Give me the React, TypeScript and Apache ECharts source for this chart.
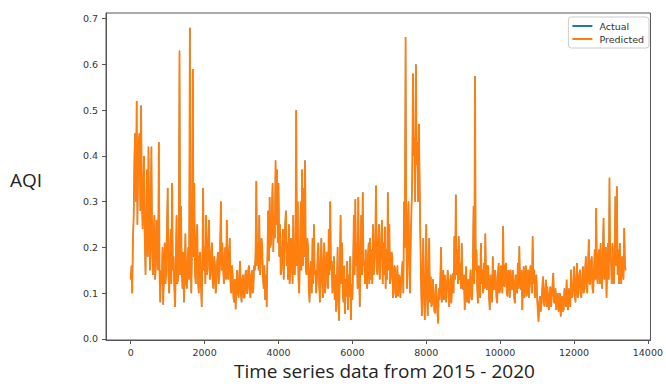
import React, { useEffect, useRef } from "react";
import * as echarts from "echarts";

// Time step between consecutive samples (time-series index units)
const timeStep = 20;

// AQI values (Actual and Predicted overlap almost perfectly)
const aqiValues: number[] = [
  // 0 - 980
  0.13, 0.16, 0.10, 0.22, 0.27, 0.40, 0.45, 0.30, 0.52, 0.25, 0.36, 0.44, 0.45, 0.28, 0.51, 0.32, 0.24, 0.33, 0.40, 0.22, 0.14, 0.26, 0.37, 0.18, 0.42, 0.25, 0.15, 0.30, 0.42, 0.19, 0.14, 0.22, 0.27, 0.13, 0.16, 0.26, 0.22, 0.15, 0.43, 0.14, 0.08, 0.15, 0.12, 0.20, 0.075, 0.14, 0.21, 0.12, 0.15, 0.24,
  // 1000 - 1980
  0.33, 0.14, 0.10, 0.18, 0.24, 0.12, 0.34, 0.15, 0.18, 0.11, 0.07, 0.16, 0.27, 0.12, 0.13, 0.20, 0.63, 0.14, 0.29, 0.16, 0.11, 0.19, 0.08, 0.15, 0.23, 0.12, 0.11, 0.17, 0.20, 0.13, 0.68, 0.16, 0.10, 0.21, 0.59, 0.18, 0.34, 0.14, 0.12, 0.22, 0.25, 0.13, 0.10, 0.18, 0.19, 0.12, 0.07, 0.17, 0.33, 0.15,
  // 2000 - 2980
  0.20, 0.12, 0.27, 0.14, 0.15, 0.22, 0.26, 0.13, 0.14, 0.19, 0.21, 0.12, 0.11, 0.18, 0.16, 0.10, 0.13, 0.17, 0.19, 0.12, 0.14, 0.20, 0.30, 0.15, 0.21, 0.16, 0.12, 0.18, 0.20, 0.13, 0.26, 0.15, 0.13, 0.19, 0.22, 0.12, 0.10, 0.16, 0.14, 0.09, 0.08, 0.13, 0.065, 0.12, 0.15, 0.10, 0.09, 0.14, 0.17, 0.10,
  // 3000 - 3980
  0.08, 0.13, 0.14, 0.09, 0.09, 0.14, 0.15, 0.10, 0.10, 0.15, 0.16, 0.11, 0.09, 0.14, 0.15, 0.10, 0.11, 0.16, 0.15, 0.19, 0.345, 0.16, 0.21, 0.15, 0.27, 0.14, 0.17, 0.22, 0.20, 0.13, 0.11, 0.16, 0.085, 0.14, 0.07, 0.18, 0.28, 0.17, 0.31, 0.20, 0.21, 0.28, 0.34, 0.19, 0.27, 0.22, 0.39, 0.25, 0.37, 0.21,
  // 4000 - 4980
  0.34, 0.18, 0.25, 0.14, 0.15, 0.20, 0.24, 0.13, 0.19, 0.25, 0.28, 0.16, 0.21, 0.13, 0.25, 0.12, 0.15, 0.22, 0.18, 0.12, 0.27, 0.15, 0.14, 0.20, 0.50, 0.16, 0.30, 0.13, 0.10, 0.18, 0.30, 0.15, 0.37, 0.16, 0.33, 0.18, 0.39, 0.15, 0.14, 0.22, 0.20, 0.11, 0.08, 0.15, 0.17, 0.10, 0.22, 0.12, 0.25, 0.14,
  // 5000 - 5980
  0.15, 0.10, 0.13, 0.19, 0.21, 0.12, 0.08, 0.16, 0.22, 0.13, 0.09, 0.17, 0.21, 0.10, 0.12, 0.19, 0.18, 0.11, 0.24, 0.14, 0.30, 0.15, 0.17, 0.10, 0.13, 0.18, 0.085, 0.14, 0.06, 0.12, 0.20, 0.08, 0.04, 0.15, 0.27, 0.12, 0.21, 0.10, 0.08, 0.16, 0.055, 0.13, 0.093, 0.17, 0.063, 0.14, 0.093, 0.18, 0.042, 0.12,
  // 6000 - 6980
  0.085, 0.16, 0.27, 0.14, 0.305, 0.16, 0.21, 0.11, 0.31, 0.15, 0.07, 0.18, 0.27, 0.14, 0.32, 0.16, 0.17, 0.12, 0.195, 0.14, 0.11, 0.18, 0.21, 0.12, 0.22, 0.13, 0.195, 0.12, 0.25, 0.14, 0.17, 0.22, 0.335, 0.15, 0.14, 0.21, 0.25, 0.13, 0.17, 0.22, 0.26, 0.12, 0.21, 0.14, 0.245, 0.11, 0.195, 0.13, 0.32, 0.15,
  // 7000 - 7980
  0.25, 0.12, 0.136, 0.19, 0.18, 0.09, 0.10, 0.16, 0.15, 0.09, 0.12, 0.16, 0.093, 0.14, 0.136, 0.09, 0.12, 0.15, 0.17, 0.10, 0.30, 0.20, 0.66, 0.22, 0.11, 0.25, 0.30, 0.16, 0.10, 0.22, 0.28, 0.35, 0.58, 0.40, 0.44, 0.30, 0.60, 0.38, 0.43, 0.30, 0.47, 0.35, 0.22, 0.12, 0.05, 0.14, 0.22, 0.09, 0.042, 0.13,
  // 8000 - 8980
  0.25, 0.09, 0.05, 0.14, 0.22, 0.08, 0.136, 0.07, 0.078, 0.13, 0.10, 0.06, 0.056, 0.12, 0.093, 0.06, 0.034, 0.11, 0.085, 0.13, 0.20, 0.08, 0.107, 0.15, 0.085, 0.14, 0.122, 0.08, 0.114, 0.15, 0.122, 0.07, 0.10, 0.14, 0.078, 0.12, 0.144, 0.10, 0.224, 0.13, 0.315, 0.14, 0.195, 0.12, 0.224, 0.13, 0.166, 0.11, 0.209, 0.13,
  // 9000 - 9980
  0.107, 0.14, 0.063, 0.12, 0.158, 0.08, 0.10, 0.13, 0.078, 0.12, 0.151, 0.09, 0.085, 0.14, 0.29, 0.12, 0.574, 0.15, 0.195, 0.11, 0.078, 0.16, 0.129, 0.09, 0.209, 0.12, 0.151, 0.10, 0.166, 0.11, 0.23, 0.12, 0.107, 0.16, 0.158, 0.09, 0.063, 0.14, 0.122, 0.08, 0.18, 0.11, 0.107, 0.15, 0.136, 0.09, 0.078, 0.14, 0.166, 0.10,
  // 10000 - 10980
  0.107, 0.16, 0.151, 0.10, 0.246, 0.12, 0.114, 0.16, 0.166, 0.10, 0.093, 0.15, 0.144, 0.09, 0.151, 0.11, 0.107, 0.15, 0.136, 0.09, 0.078, 0.14, 0.136, 0.10, 0.166, 0.11, 0.202, 0.12, 0.107, 0.15, 0.063, 0.13, 0.158, 0.09, 0.122, 0.16, 0.093, 0.13, 0.151, 0.09, 0.122, 0.16, 0.136, 0.10, 0.224, 0.12, 0.151, 0.09, 0.122, 0.14,
  // 11000 - 11980
  0.093, 0.06, 0.038, 0.08, 0.093, 0.06, 0.078, 0.11, 0.136, 0.08, 0.071, 0.11, 0.129, 0.07, 0.114, 0.08, 0.063, 0.10, 0.114, 0.07, 0.093, 0.12, 0.144, 0.08, 0.078, 0.11, 0.063, 0.09, 0.10, 0.06, 0.071, 0.10, 0.049, 0.08, 0.093, 0.06, 0.063, 0.11, 0.093, 0.07, 0.129, 0.08, 0.063, 0.11, 0.10, 0.07, 0.151, 0.09, 0.093, 0.12,
  // 12000 - 12980
  0.158, 0.10, 0.08, 0.13, 0.166, 0.09, 0.10, 0.14, 0.151, 0.10, 0.09, 0.13, 0.158, 0.10, 0.11, 0.15, 0.18, 0.11, 0.10, 0.16, 0.217, 0.12, 0.12, 0.17, 0.18, 0.11, 0.10, 0.15, 0.195, 0.13, 0.286, 0.14, 0.12, 0.18, 0.195, 0.12, 0.209, 0.14, 0.11, 0.19, 0.264, 0.13, 0.15, 0.20, 0.09, 0.16, 0.209, 0.13, 0.352, 0.17,
  // 13000 - 13400
  0.173, 0.12, 0.209, 0.14, 0.12, 0.19, 0.311, 0.16, 0.333, 0.14, 0.195, 0.12, 0.209, 0.15, 0.12, 0.18, 0.17, 0.13, 0.242, 0.16, 0.15,
];

const actualValues = aqiValues;
const predictedValues = aqiValues;

const seriesNames = ["Actual", "Predicted"];
const xTicks = [0, 2000, 4000, 6000, 8000, 10000, 12000, 14000];
const yTicks = [0, 0.1, 0.2, 0.3, 0.4, 0.5, 0.6, 0.7];
const yAxisTitle = "AQI";
const xAxisTitle = "Time series data from 2015 - 2020";

const toPairs = (vals: number[]) => vals.map((v, i) => [i * timeStep, v]);

export default function App() {
  const ref = useRef<HTMLDivElement>(null);

  useEffect(() => {
    document.body.style.margin = "0";
    if (!ref.current) return;
    const chart = echarts.init(ref.current, undefined, { renderer: "svg" });
    const labelStyle = { color: "#333", fontSize: 9.5, fontFamily: "DejaVu Sans" };
    chart.setOption({
      animation: false,
      backgroundColor: "#ffffff",
      grid: {
        left: 106,
        right: 11,
        top: 13,
        bottom: 47,
        show: true,
        borderColor: "#555",
        borderWidth: 1,
        backgroundColor: "transparent",
      },
      legend: {
        orient: "vertical",
        right: 17,
        top: 17,
        data: seriesNames,
        icon: "rect",
        itemWidth: 20,
        itemHeight: 2,
        itemGap: 3,
        padding: [4, 5, 4, 4],
        borderColor: "#cccccc",
        borderWidth: 1,
        borderRadius: 3,
        backgroundColor: "rgba(255,255,255,0.85)",
        textStyle: { color: "#333", fontSize: 9.5, fontFamily: "DejaVu Sans", padding: [0, 0, 0, 2] },
      },
      xAxis: {
        type: "value",
        min: -670,
        max: 14070,
        splitLine: { show: false },
        axisLine: { show: true, onZero: false, lineStyle: { color: "#555" } },
        axisTick: { show: true, length: 4, lineStyle: { color: "#555" }, customValues: xTicks },
        axisLabel: { ...labelStyle, margin: 7, customValues: xTicks, formatter: (v: number) => String(v) },
      },
      yAxis: {
        type: "value",
        min: -0.0025,
        max: 0.7125,
        splitLine: { show: false },
        axisLine: { show: true, onZero: false, lineStyle: { color: "#555" } },
        axisTick: { show: true, length: 4, lineStyle: { color: "#555" }, customValues: yTicks },
        axisLabel: { ...labelStyle, margin: 8, customValues: yTicks, formatter: (v: number) => v.toFixed(1) },
      },
      graphic: [
        {
          type: "text",
          left: 10,
          top: 170,
          style: { text: yAxisTitle, fontSize: 19, fontFamily: "Open Sans", fill: "#222" },
        },
        {
          type: "text",
          left: 234,
          top: 361,
          style: { text: xAxisTitle, fontSize: 19, fontFamily: "Open Sans", fill: "#222" },
        },
      ],
      series: [
        {
          name: seriesNames[0],
          type: "line",
          data: toPairs(actualValues),
          showSymbol: false,
          symbol: "none",
          lineStyle: { color: "#1f77b4", width: 1 },
          itemStyle: { color: "#1f77b4" },
        },
        {
          name: seriesNames[1],
          type: "line",
          data: toPairs(predictedValues),
          showSymbol: false,
          symbol: "none",
          lineStyle: { color: "#ff7f0e", width: 1.8 },
          itemStyle: { color: "#ff7f0e" },
        },
      ],
    });
    return () => chart.dispose();
  }, []);

  return <div ref={ref} style={{ width: 666, height: 387 }} />;
}
